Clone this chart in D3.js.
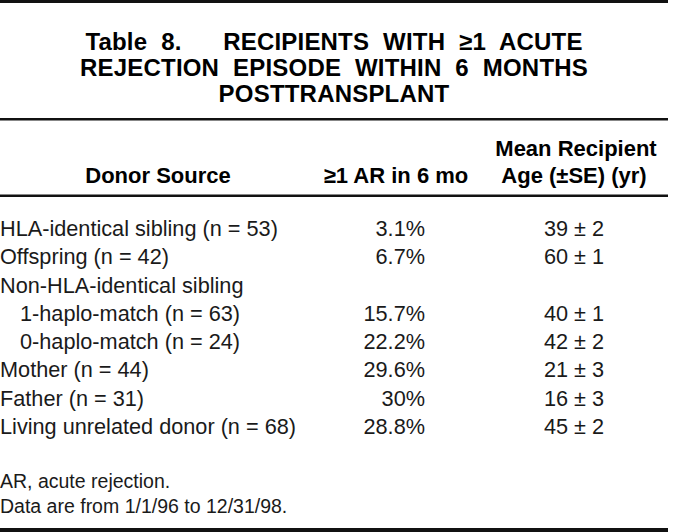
<!DOCTYPE html>
<html>
<head>
<meta charset="utf-8">
<script src="https://cdn.jsdelivr.net/npm/d3@7"></script>
<style>
  body { margin: 0; background: #fff; }
  svg { display: block; }
  .title { font-family: "Liberation Sans", Arial, sans-serif; font-weight: bold; font-size: 24px; letter-spacing: 0.2px; word-spacing: 7px; }
  .head { font-family: "Liberation Sans", Arial, sans-serif; font-weight: bold; font-size: 22px; }
  .cell { font-family: "Liberation Sans", Arial, sans-serif; font-size: 21.7px; fill: #1a1a1a; }
</style>
</head>
<body>
<script>
const width = 676
const height = 532

// table content
const titleLines = ['Table 8.   RECIPIENTS WITH \u22651 ACUTE', 'REJECTION EPISODE WITHIN 6 MONTHS', 'POSTTRANSPLANT']
const donors = ['HLA-identical sibling (n = 53)', 'Offspring (n = 42)', 'Non-HLA-identical sibling',
  '1-haplo-match (n = 63)', '0-haplo-match (n = 24)', 'Mother (n = 44)', 'Father (n = 31)',
  'Living unrelated donor (n = 68)']
const indented = [false, false, false, true, true, false, false, false]
const arRate = ['3.1%', '6.7%', '', '15.7%', '22.2%', '29.6%', '30%', '28.8%']
const ageMean = [39, 60, null, 40, 42, 21, 16, 45]
const ageSE = [2, 1, null, 1, 2, 3, 3, 2]
const footnotes = ['AR, acute rejection.', 'Data are from 1/1/96 to 12/31/98.']

const rows = donors.map(function (d, i) {
  return {donor: d, indent: indented[i], ar: arRate[i],
    age: ageMean[i] == null ? '' : ageMean[i] + ' \u00b1 ' + ageSE[i]}
})

const svg = d3.select('body').append('svg')
  .attr('width', width)
  .attr('height', height)

// rules
const rules = [{y: 0, h: 3}, {y: 118, h: 2.5}, {y: 194.5, h: 2.5}, {y: 528, h: 4}]
svg.selectAll('rect.rule')
  .data(rules)
  .enter().append('rect')
    .attr('class', 'rule')
    .attr('x', 0)
    .attr('width', 668)
    .attr('y', function (d) { return d.y })
    .attr('height', function (d) { return d.h })
    .attr('fill', '#111')

// title
const titleY = d3.scalePoint().domain(d3.range(titleLines.length)).range([50, 102])
svg.selectAll('text.title')
  .data(titleLines)
  .enter().append('text')
    .attr('class', 'title')
    .attr('x', 334)
    .attr('y', function (d, i) { return titleY(i) })
    .attr('text-anchor', 'middle')
    .style('white-space', 'pre')
    .text(function (d) { return d })

// column headers
const head = svg.append('g').attr('class', 'head')
head.append('text').attr('x', 158).attr('y', 183).attr('text-anchor', 'middle').text('Donor Source')
head.append('text').attr('x', 396).attr('y', 183).attr('text-anchor', 'middle').text('\u22651 AR in 6 mo')
head.append('text').attr('x', 576).attr('y', 156).attr('text-anchor', 'middle').text('Mean Recipient')
head.append('text').attr('x', 574).attr('y', 183).attr('text-anchor', 'middle').text('Age (\u00b1SE) (yr)')

// body rows
const rowY = d3.scalePoint().domain(d3.range(rows.length)).range([236, 434])
const row = svg.selectAll('g.row')
  .data(rows)
  .enter().append('g')
    .attr('class', 'row cell')
    .attr('transform', function (d, i) { return 'translate(0,' + rowY(i) + ')' })
row.append('text')
  .attr('x', function (d) { return d.indent ? 20 : 0 })
  .text(function (d) { return d.donor })
row.append('text')
  .attr('x', 425)
  .attr('text-anchor', 'end')
  .text(function (d) { return d.ar })
row.append('text')
  .attr('x', 574)
  .attr('text-anchor', 'middle')
  .text(function (d) { return d.age })

// footnotes
const footY = d3.scalePoint().domain(d3.range(footnotes.length)).range([488, 513])
svg.selectAll('text.foot')
  .data(footnotes)
  .enter().append('text')
    .attr('class', 'foot cell')
    .attr('x', 0)
    .attr('y', function (d, i) { return footY(i) })
    .style('font-size', '19.5px')
    .text(function (d) { return d })
</script>
</body>
</html>
